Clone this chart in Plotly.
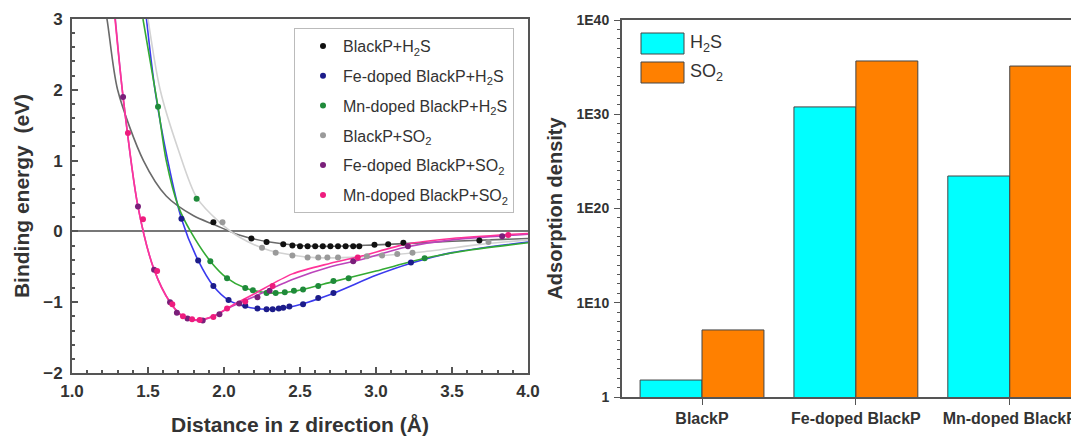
import plotly.graph_objects as go

# ---------------- Left panel data ----------------
bp_h2s_x = [1.93, 2.18, 2.28, 2.39, 2.45, 2.50, 2.55, 2.60, 2.65, 2.70, 2.75, 2.80, 2.85, 2.89, 2.99, 3.08, 3.18, 3.68]
bp_h2s_y = [0.13, -0.10, -0.15, -0.18, -0.20, -0.21, -0.21, -0.21, -0.21, -0.21, -0.21, -0.21, -0.21, -0.21, -0.19, -0.18, -0.16, -0.13]
bp_h2s_fx = [1.20, 1.23, 1.30, 1.47, 1.62, 1.80, 1.93, 2.10, 2.30, 2.60, 3.00, 3.50, 4.00]
bp_h2s_fy = [3.30, 3.00, 2.00, 1.00, 0.50, 0.22, 0.10, -0.05, -0.15, -0.21, -0.19, -0.14, -0.10]

fe_h2s_x = [1.72, 1.83, 1.93, 2.03, 2.14, 2.22, 2.28, 2.32, 2.36, 2.39, 2.43, 2.52, 2.62, 2.72, 3.23]
fe_h2s_y = [0.18, -0.41, -0.77, -0.97, -1.05, -1.09, -1.10, -1.10, -1.09, -1.08, -1.06, -1.03, -0.94, -0.87, -0.44]
fe_h2s_fx = [1.49, 1.546, 1.63, 1.72, 1.83, 1.93, 2.03, 2.14, 2.28, 2.45, 2.70, 3.00, 3.23, 3.50, 4.00]
fe_h2s_fy = [3.00, 2.00, 1.00, 0.18, -0.41, -0.77, -0.97, -1.06, -1.10, -1.06, -0.89, -0.62, -0.45, -0.30, -0.15]

mn_h2s_x = [1.566, 1.82, 1.91, 2.02, 2.14, 2.19, 2.28, 2.34, 2.40, 2.46, 2.52, 2.62, 2.72, 2.82, 3.32]
mn_h2s_y = [1.76, 0.46, -0.42, -0.66, -0.80, -0.83, -0.87, -0.87, -0.86, -0.84, -0.82, -0.77, -0.70, -0.66, -0.38]
mn_h2s_fx = [1.467, 1.566, 1.62, 1.70, 1.78, 1.91, 2.02, 2.14, 2.30, 2.45, 2.70, 3.00, 3.32, 3.60, 4.00]
mn_h2s_fy = [3.00, 1.76, 1.00, 0.35, 0.00, -0.42, -0.66, -0.80, -0.87, -0.85, -0.72, -0.56, -0.38, -0.27, -0.16]

bp_so2_x = [1.99, 2.25, 2.34, 2.45, 2.55, 2.62, 2.68, 2.75, 2.94, 3.04, 3.14, 3.24, 3.74]
bp_so2_y = [0.13, -0.23, -0.30, -0.34, -0.37, -0.37, -0.37, -0.37, -0.35, -0.34, -0.32, -0.30, -0.15]
bp_so2_fx = [1.50, 1.58, 1.70, 1.82, 1.97, 2.10, 2.30, 2.60, 2.90, 3.30, 3.70, 4.00]
bp_so2_fy = [3.00, 2.00, 1.15, 0.48, 0.13, -0.08, -0.27, -0.37, -0.36, -0.29, -0.18, -0.12]

fe_so2_x = [1.336, 1.434, 1.54, 1.645, 1.69, 1.76, 1.86, 1.97, 2.10, 2.22, 2.30, 2.85, 3.21, 3.83]
fe_so2_y = [1.90, 0.35, -0.54, -1.00, -1.15, -1.23, -1.26, -1.17, -1.02, -0.93, -0.84, -0.42, -0.21, -0.07]
fe_so2_fx = [1.285, 1.336, 1.434, 1.54, 1.645, 1.73, 1.83, 1.93, 2.05, 2.20, 2.45, 2.70, 2.90, 3.20, 3.50, 4.00]
fe_so2_fy = [3.00, 1.90, 0.35, -0.54, -1.00, -1.20, -1.26, -1.20, -1.06, -0.92, -0.68, -0.50, -0.40, -0.22, -0.12, -0.04]

mn_so2_x = [1.368, 1.467, 1.56, 1.66, 1.73, 1.79, 1.84, 1.93, 2.02, 2.14, 2.32, 2.88, 3.87]
mn_so2_y = [1.39, 0.17, -0.56, -1.03, -1.20, -1.24, -1.25, -1.21, -1.09, -0.99, -0.77, -0.37, -0.05]
mn_so2_fx = [1.283, 1.336, 1.434, 1.54, 1.645, 1.73, 1.83, 1.93, 2.05, 2.20, 2.45, 2.70, 2.90, 3.20, 3.50, 4.00]
mn_so2_fy = [3.00, 1.90, 0.35, -0.54, -1.00, -1.20, -1.25, -1.20, -1.05, -0.88, -0.60, -0.45, -0.35, -0.18, -0.10, -0.03]

# ---------------- Right panel data ----------------
categories = ["BlackP", "Fe-doped BlackP", "Mn-doped BlackP"]
h2s_density = [63.0, 6e30, 2.8e23]
so2_density = [1.3e7, 4.5e35, 1.3e35]
ytick_vals = [1.0, 1e10, 1e20, 1e30, 1e40]
ytick_text = ["1", "1E10", "1E20", "1E30", "1E40"]

FONT = "Liberation Sans, Arial, sans-serif"
AX = "#555555"

fig = go.Figure()

series = [
    ("BlackP+H<sub>2</sub>S", bp_h2s_x, bp_h2s_y, bp_h2s_fx, bp_h2s_fy, "#111111", "#6a6a6a"),
    ("Fe-doped BlackP+H<sub>2</sub>S", fe_h2s_x, fe_h2s_y, fe_h2s_fx, fe_h2s_fy, "#1c1c8a", "#3a3aee"),
    ("Mn-doped BlackP+H<sub>2</sub>S", mn_h2s_x, mn_h2s_y, mn_h2s_fx, mn_h2s_fy, "#1f8a3a", "#33aa33"),
    ("BlackP+SO<sub>2</sub>", bp_so2_x, bp_so2_y, bp_so2_fx, bp_so2_fy, "#9a9a9a", "#d2d2d2"),
    ("Fe-doped BlackP+SO<sub>2</sub>", fe_so2_x, fe_so2_y, fe_so2_fx, fe_so2_fy, "#7a1f7a", "#bb44bb"),
    ("Mn-doped BlackP+SO<sub>2</sub>", mn_so2_x, mn_so2_y, mn_so2_fx, mn_so2_fy, "#ee1c7e", "#ff3399"),
]

# fit lines first
for name, x, y, fx, fy, mc, lc in series:
    fig.add_trace(go.Scatter(x=fx, y=fy, mode="lines", line=dict(color=lc, width=1.6, shape="spline", smoothing=0.8),
                             showlegend=False, hoverinfo="skip", xaxis="x", yaxis="y"))
for i, (name, x, y, fx, fy, mc, lc) in enumerate(series):
    fig.add_trace(go.Scatter(x=x, y=y, mode="markers", name=name, legendgroup=f"g{i}",
                             marker=dict(color=mc, size=6), xaxis="x", yaxis="y", legend="legend"))

fig.add_trace(go.Bar(x=categories, y=h2s_density, name="H2S", marker=dict(color="#00ffff", line=dict(color="#444444", width=1)),
                     xaxis="x2", yaxis="y2", showlegend=False))
fig.add_trace(go.Bar(x=categories, y=so2_density, name="SO2", marker=dict(color="#ff8000", line=dict(color="#444444", width=1)),
                     xaxis="x2", yaxis="y2", showlegend=False))

# the page puts the figure 8 px in from the top-left corner
OFF = 8
W, H = 1079 - OFF, 437 - OFF
def px(xp):
    return (xp - OFF) / W
def py(yp):
    return 1 - (yp - OFF) / H

minor_log = [10.0 ** k for k in range(41) if k % 10 != 0]

fig.update_layout(
    width=W, height=H,
    margin=dict(l=0, r=0, t=0, b=0, autoexpand=False),
    paper_bgcolor="white", plot_bgcolor="white",
    font=dict(family=FONT, color="#333333"),
    barmode="group", bargap=0.195, bargroupgap=0,
    xaxis=dict(domain=[px(72), px(528)], range=[1, 4], tickvals=[1, 1.5, 2, 2.5, 3, 3.5, 4], tickformat=".1f",
               ticks="inside", ticklen=6, tickwidth=1.5, tickcolor=AX, automargin=False,
               minor=dict(dtick=0.1, ticks="inside", ticklen=3, tickcolor=AX),
               showline=True, linecolor=AX, linewidth=2, mirror=True, showgrid=False, zeroline=False,
               tickfont=dict(size=17, family=FONT, color="#333", weight="bold"), ticklabelstandoff=2,
               title=dict(text="<b>Distance in z direction (Å)</b>", font=dict(size=21, color="#333"), standoff=17),
               anchor="y"),
    yaxis=dict(domain=[py(373), py(19)], range=[-2, 3], dtick=1,
               ticks="inside", ticklen=6, tickwidth=1.5, tickcolor=AX, automargin=False,
               minor=dict(dtick=0.2, ticks="inside", ticklen=3, tickcolor=AX),
               showline=True, linecolor=AX, linewidth=2, mirror=True, showgrid=False,
               zeroline=True, zerolinecolor="#777777", zerolinewidth=1.5,
               tickfont=dict(size=17, family=FONT, color="#333", weight="bold"), ticklabelstandoff=4,
               title=dict(text="<b>Binding energy  (eV)</b>", font=dict(size=21, color="#333"), standoff=8),
               anchor="x"),
    xaxis2=dict(domain=[px(622), 1.0], range=[-0.52, 2.45], type="category",
                ticks="outside", ticklen=6, tickwidth=1.2, tickcolor=AX, automargin=False,
                showline=True, linecolor=AX, linewidth=2, mirror=True, showgrid=False,
                tickfont=dict(size=16, family=FONT, color="#333", weight="bold"), ticklabelstandoff=0,
                anchor="y2"),
    yaxis2=dict(domain=[py(397), py(20)], type="log", range=[0, 40],
                tickvals=ytick_vals, ticktext=ytick_text, automargin=False,
                ticks="outside", ticklen=6, tickwidth=1.2, tickcolor=AX,
                minor=dict(tickvals=minor_log, ticks="outside", ticklen=3, tickcolor=AX),
                showline=True, linecolor=AX, linewidth=2, showgrid=False, zeroline=False,
                tickfont=dict(size=14, family=FONT, color="#333", weight="bold"), ticklabelstandoff=2,
                title=dict(text="<b>Adsorption density</b>", font=dict(size=20, color="#333"), standoff=8),
                anchor="x2"),
    legend=dict(x=px(294), y=py(28), xanchor="left", yanchor="top", bgcolor="white",
                bordercolor="#bbbbbb", borderwidth=1, font=dict(size=16, family=FONT, color="#333"),
                tracegroupgap=6, indentation=8),
)

# custom legend for the bar chart
for (y0, y1, col, label) in [(33, 54, "#00ffff", "H<sub>2</sub>S"), (62, 83, "#ff8000", "SO<sub>2</sub>")]:
    fig.add_shape(type="rect", xref="paper", yref="paper", x0=px(641), x1=px(684), y0=py(y1), y1=py(y0),
                  fillcolor=col, line=dict(color="#444444", width=1))
    fig.add_annotation(xref="paper", yref="paper", x=px(688), y=py((y0 + y1) / 2), xanchor="left", yanchor="middle",
                       text=label, showarrow=False, font=dict(size=18, family=FONT, color="#333"))

fig.write_html("out.html")
